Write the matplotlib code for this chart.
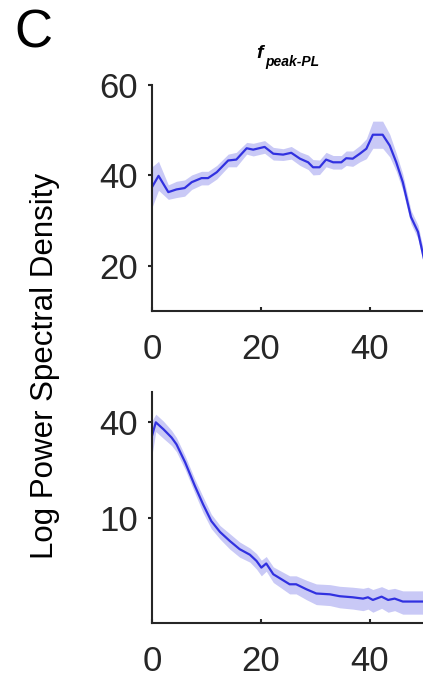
import numpy as np
import matplotlib
matplotlib.use("Agg")
import matplotlib.pyplot as plt

plt.rcParams["font.family"] = ["Liberation Sans", "DejaVu Sans"]

# top panel: f_peak-PL spectrum
top_freq = [0, 1.2, 3, 4.5, 6, 7.3, 9.1, 10.3, 11.9, 14, 15.5, 17.4, 18.6, 20.7,
            22.3, 24.1, 25.6, 27.2, 28.7, 29.6, 30.8, 32, 33.3, 34.8, 35.7, 36.9,
            38.2, 39.4, 40.6, 42.4, 43.7, 44.9, 46.1, 47.6, 48.9, 50]
top_mean = [37.4, 39.9, 36.3, 36.9, 37.2, 38.5, 39.4, 39.4, 40.7, 43.3, 43.5, 46.0,
            45.7, 46.3, 44.8, 44.6, 45.0, 43.7, 42.9, 41.8, 41.8, 43.5, 42.9, 42.9,
            43.8, 43.7, 44.8, 45.9, 49.0, 49.0, 46.6, 42.9, 38.5, 30.8, 27.5, 21.5]
top_err = [4.5, 3.2, 1.6, 1.8, 1.8, 1.6, 1.5, 1.5, 1.5, 1.4, 1.6, 1.3, 1.4, 1.4,
           1.4, 1.3, 1.4, 1.5, 1.6, 1.7, 1.6, 1.6, 1.5, 1.5, 1.6, 1.7, 1.8, 2.2,
           3.0, 3.0, 2.5, 2.0, 1.8, 1.5, 1.5, 1.5]

# bottom panel: log spectrum
bot_freq = [0, 0.7, 2.1, 3.6, 4.5, 6.1, 7.9, 9.4, 10.9, 12.5, 14.3, 16.1, 18, 19.2,
            20.1, 21, 22.3, 23.8, 25.3, 26.5, 28.4, 30.2, 32.7, 34.5, 36.9, 38.8,
            39.7, 40.6, 42.2, 43.4, 44.6, 46.1, 50]
bot_mean = [32.9, 40.0, 36.2, 32.1, 29.1, 22.4, 15.9, 12.2, 9.6, 8.2, 7.2, 6.4, 5.9,
            5.4, 4.9, 5.2, 4.45, 4.14, 3.85, 3.85, 3.58, 3.37, 3.33, 3.24, 3.19, 3.13,
            3.19, 3.07, 3.22, 3.07, 3.13, 3.0, 3.0]
bot_err = [8.0, 5.0, 4.5, 3.5, 3.0, 2.2, 1.6, 1.4, 1.0, 0.8, 0.8, 0.7, 0.6, 0.6, 0.55,
           0.55, 0.5, 0.5, 0.5, 0.5, 0.5, 0.5, 0.5, 0.5, 0.5, 0.5, 0.5, 0.5, 0.5,
           0.5, 0.5, 0.5, 0.5]

line_col = "#3131e0"
band_col = "#c9c9f6"
ax_col = "#262626"

fig = plt.figure(figsize=(4.23, 6.81), dpi=100)

ax1 = fig.add_axes([152 / 423, 1 - 311 / 681, 272 / 423, 226 / 681])
ax2 = fig.add_axes([152 / 423, 1 - 623 / 681, 272 / 423, 231 / 681])


def style(ax):
    for s in ["top", "right"]:
        ax.spines[s].set_visible(False)
    for s in ["left", "bottom"]:
        ax.spines[s].set_color(ax_col)
        ax.spines[s].set_linewidth(1.5)
    ax.tick_params(axis="x", direction="in", length=3, width=1.5, color=ax_col,
                   labelsize=25, labelcolor=ax_col, pad=16)
    ax.tick_params(axis="y", direction="out", length=3, width=1.5, color=ax_col,
                   labelsize=25, labelcolor=ax_col, pad=7)
    ax.tick_params(axis="y", which="minor", length=0)
    ax.set_xlim(0, 50)
    ax.set_xticks([0, 20, 40])


t = np.array(top_freq)
m = np.array(top_mean)
e = np.array(top_err)
ax1.fill_between(t, m - e, m + e, color=band_col, linewidth=0)
ax1.plot(t, m, color=line_col, linewidth=1.6)
style(ax1)
ax1.set_ylim(10, 60)
ax1.set_yticks([20, 40, 60])

b = np.array(bot_freq)
bm = np.array(bot_mean)
be = np.array(bot_err)
ax2.fill_between(b, bm - be, bm + be, color=band_col, linewidth=0)
ax2.plot(b, bm, color=line_col, linewidth=1.6)
ax2.set_yscale("log")
style(ax2)
ax2.set_ylim(2.2, 62)
ax2.set_yticks([10, 40])
ax2.set_yticklabels(["10", "40"])

fig.text(45 / 423, 1 - 366 / 681, "Log Power Spectral Density", rotation=90,
         ha="center", va="center", fontsize=22.5, color="black")

fig.text(14 / 423, 1 - 48 / 681, "C", fontsize=38, ha="left", va="baseline")

fig.text(256 / 423, 1 - 58 / 681, "f", fontsize=14, fontweight="bold",
         fontstyle="italic", ha="left", va="baseline")
fig.text(265 / 423, 1 - 66 / 681, "peak-PL", fontsize=10, fontweight="bold",
         fontstyle="italic", ha="left", va="baseline")

fig.savefig("out.png", dpi=100)
